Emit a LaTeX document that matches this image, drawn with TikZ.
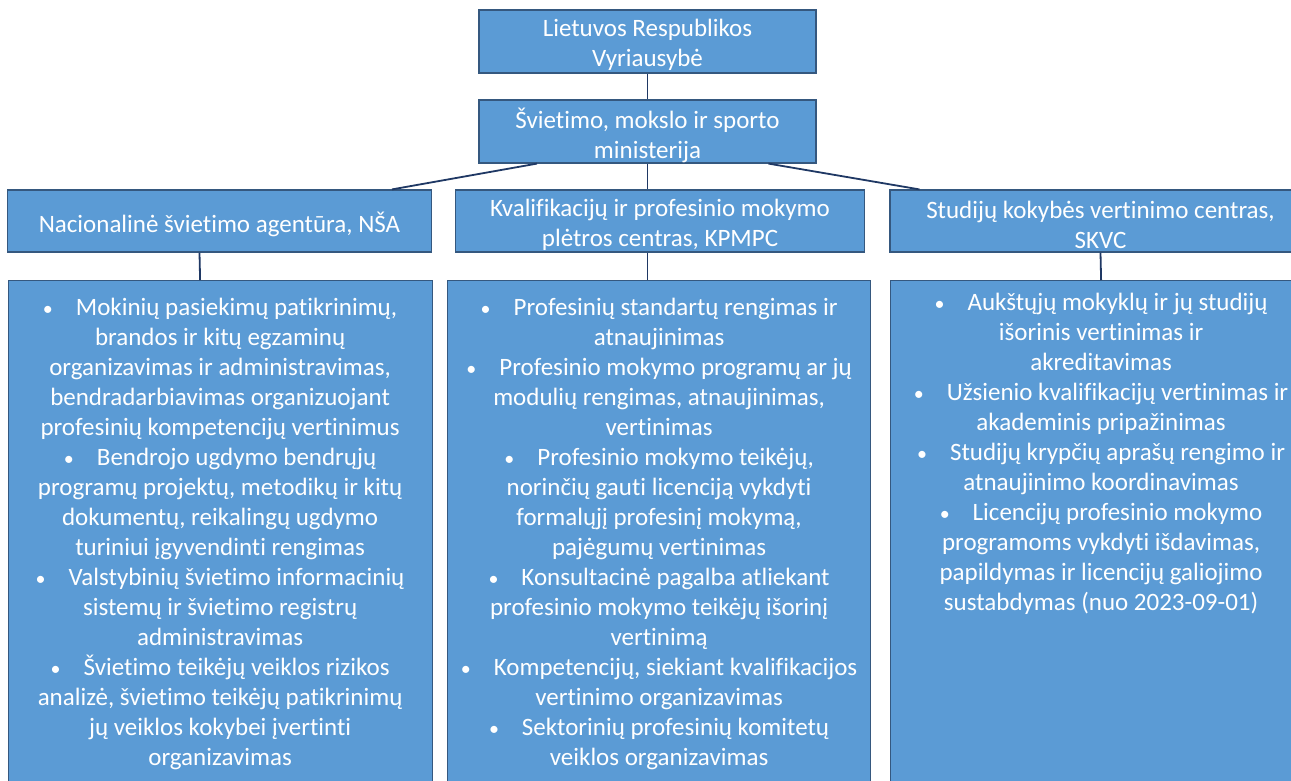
\documentclass[tikz,border=0pt]{standalone}
\usepackage{fontspec}
\setmainfont{Carlito}[Ligatures=NoCommon]
\usepackage{xcolor}
\usetikzlibrary{positioning}

\definecolor{boxfill}{HTML}{5B9BD5}
\definecolor{boxline}{HTML}{35587F}
\definecolor{linkline}{HTML}{1F3864}
\newcommand{\bulletgap}{{\fontsize{20}{30}\selectfont\textbullet}\hspace{23pt}}

\begin{document}
\begin{tikzpicture}[x=1pt, y=-1pt,
	unit/.style={draw=boxline, fill=boxfill, line width=1.2pt, inner sep=0pt},
	tasks/.style={text=white, inner sep=0pt, align=center, font=\fontsize{25}{30}\selectfont},
	head/.style={tasks, yshift=-3.5pt},
	link/.style={draw=linkline, line width=1.8pt}]
	\useasboundingbox (0,0) rectangle (1291,780);
	\clip (0,0) rectangle (1291,780);
	
	\node [unit, minimum width=337pt, minimum height=63pt, label={[head]center:{Lietuvos Respublikos\\Vyriausybė}}] (gov) at (647.5,41.5) {};
	\node [unit, minimum width=337pt, minimum height=63pt, label={[head]center:{Švietimo, mokslo ir sporto\\ministerija}}] (min) at (647.5,131.5) {};
	
	\node [unit, minimum width=424pt, minimum height=62pt, label={[head]center:{Nacionalinė švietimo agentūra, NŠA}}] (nsa) at (219.5,221) {};
	\node [unit, minimum width=409.5pt, minimum height=62pt, label={[head]center:{Kvalifikacijų ir profesinio mokymo\\plėtros centras, KPMPC}}] (kpmpc) at (660,221) {};
	\node [unit, minimum width=421pt, minimum height=62pt, label={[head]center:{Studijų kokybės vertinimo centras,\\SKVC}}] (skvc) at (1100.5,221) {};
	
	\node [unit, anchor=north west, minimum width=424pt, minimum height=560pt] (nsabox) at (7.5,280) {};
	\node [unit, anchor=north west, minimum width=423pt, minimum height=560pt] (kpmbox) at (447,280) {};
	\node [unit, anchor=north west, minimum width=421pt, minimum height=560pt] (skvbox) at (890,280) {};
	
	\node [tasks, below=18pt of nsabox.north] (nsatext) {\bulletgap Mokinių pasiekimų patikrinimų,\\
		brandos ir kitų egzaminų\\
		organizavimas ir administravimas,\\
		bendradarbiavimas organizuojant\\
		profesinių kompetencijų vertinimus\\
		\bulletgap Bendrojo ugdymo bendrųjų\\
		programų projektų, metodikų ir kitų\\
		dokumentų, reikalingų ugdymo\\
		turiniui įgyvendinti rengimas\\
		\bulletgap Valstybinių švietimo informacinių\\
		sistemų ir švietimo registrų\\
		administravimas\\
		\bulletgap Švietimo teikėjų veiklos rizikos\\
		analizė, švietimo teikėjų patikrinimų\\
		jų veiklos kokybei įvertinti\\
		organizavimas};
	\node [tasks, below=18pt of kpmbox.north] (kpmtext) {\bulletgap Profesinių standartų rengimas ir\\
		atnaujinimas\\
		\bulletgap Profesinio mokymo programų ar jų\\
		modulių rengimas, atnaujinimas,\\
		vertinimas\\
		\bulletgap Profesinio mokymo teikėjų,\\
		norinčių gauti licenciją vykdyti\\
		formalųjį profesinį mokymą,\\
		pajėgumų vertinimas\\
		\bulletgap Konsultacinė pagalba atliekant\\
		profesinio mokymo teikėjų išorinį\\
		vertinimą\\
		\bulletgap Kompetencijų, siekiant kvalifikacijos\\
		vertinimo organizavimas\\
		\bulletgap Sektorinių profesinių komitetų\\
		veiklos organizavimas};
	\node [tasks, below=13pt of skvbox.north] (skvtext) {\bulletgap Aukštųjų mokyklų ir jų studijų\\
		išorinis vertinimas ir\\
		akreditavimas\\
		\bulletgap Užsienio kvalifikacijų vertinimas ir\\
		akademinis pripažinimas\\
		\bulletgap Studijų krypčių aprašų rengimo ir\\
		atnaujinimo koordinavimas\\
		\bulletgap Licencijų profesinio mokymo\\
		programoms vykdyti išdavimas,\\
		papildymas ir licencijų galiojimo\\
		sustabdymas (nuo 2023-09-01)};
	
	\draw [link] (gov.south) -- (min.north);
	\draw [link] (min.south) -- (min.south |- kpmpc.north);
	\draw [link] ([xshift=-110.5pt]min.south) -- ([xshift=172.5pt]nsa.north);
	\draw [link] ([xshift=121pt]min.south) -- ([xshift=30pt]skvc.north west);
	
	\draw [link] ([xshift=-20pt]nsa.south) -- ([xshift=-20pt]nsabox.north);
	\draw [link] (min.south |- kpmpc.south) -- (min.south |- kpmbox.north);
	\draw [link] (skvc.south) -- (skvbox.north);
\end{tikzpicture}
\end{document}
